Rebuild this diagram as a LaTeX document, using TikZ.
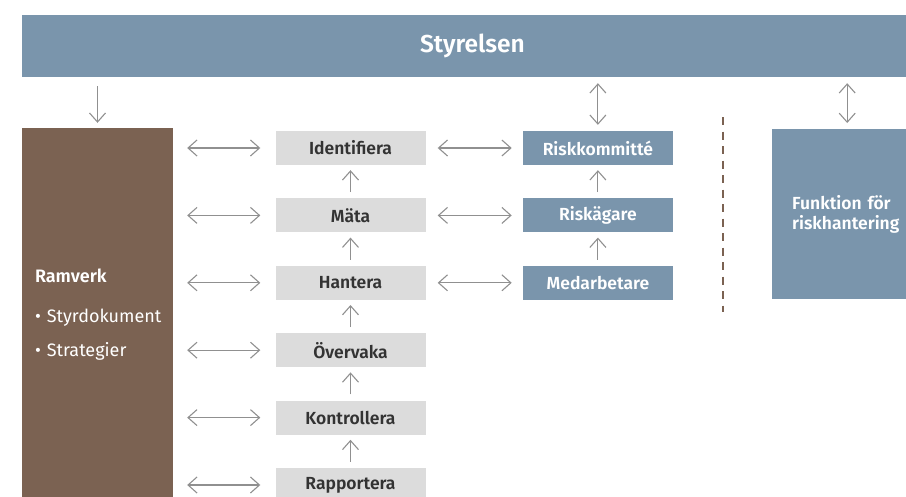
\documentclass[tikz,border=0pt]{standalone}
\usepackage{fontspec}
\setmainfont{Fira Sans}[BoldFont={Fira Sans SemiBold}]
\usetikzlibrary{positioning,arrows.meta}
\definecolor{styrblue}{HTML}{7A95AC}
\definecolor{rambrown}{HTML}{7B6252}
\definecolor{stepgray}{HTML}{DCDCDC}
\definecolor{labeldark}{HTML}{333333}
\definecolor{arrowgray}{HTML}{909090}
\begin{document}
\begin{tikzpicture}[x=1pt,y=-1pt,
	every node/.style={inner sep=0pt},
	processbox/.style={fill=stepgray,minimum width=150pt,minimum height=34pt,
		text=labeldark,font=\bfseries\fontsize{17.5}{20}\selectfont},
	rolebox/.style={fill=styrblue,minimum width=150pt,minimum height=34pt,
		text=white,font=\bfseries\fontsize{17.5}{20}\selectfont},
	link/.style={draw=arrowgray,line width=1.1pt,
		{Straight Barb[length=9pt,width=16pt]}-{Straight Barb[length=9pt,width=16pt]}},
	uplink/.style={draw=arrowgray,line width=1.1pt,-{Straight Barb[length=9pt,width=16pt]}},
	node distance=33pt
]
\useasboundingbox (0,0) rectangle (906,496);
\clip (0,0) rectangle (906,496);
% board
\node[fill=styrblue,minimum width=901pt,minimum height=62pt,text=white,
	font=\bfseries\fontsize{24.5}{28}\selectfont] (board) at (472.5,46) {Styrelsen};
% framework
\node[fill=rambrown,minimum width=151pt,minimum height=373pt,text=white,
	text width=125pt,inner xsep=13pt,align=left,
	font=\fontsize{18}{34}\selectfont] (ramverk) at (97.5,314.5)
	{\textbf{Ramverk}\\[6pt]\mbox{\textbullet\ Styrdokument}\\\mbox{\textbullet\ Strategier}};
% process steps
\node[processbox] (ident) at (350.5,148) {Identifiera};
\node[processbox,below=of ident] (maata) {Mäta};
\node[processbox,below=of maata] (hant) {Hantera};
\node[processbox,below=of hant] (overv) {Övervaka};
\node[processbox,below=of overv] (kontr) {Kontrollera};
\node[processbox,below=of kontr] (rapp) {Rapportera};
% roles
\node[rolebox,right=97pt of ident] (kommitte) {Riskkommitté};
\node[rolebox,right=97pt of maata] (agare) {Riskägare};
\node[rolebox,right=97pt of hant] (medarb) {Medarbetare};
% risk function
\node[fill=styrblue,minimum width=150pt,minimum height=170pt,text=white,
	text width=110pt,inner xsep=20pt,align=left,anchor=north west,
	font=\bfseries\fontsize{17.5}{19.5}\selectfont] (funktion) at (772,129)
	{Funktion för\\riskhantering};
% divider
\draw[rambrown,line width=2pt,dash pattern=on 8pt off 6.5pt] (723,117) -- (723,312);
% connectors
\draw[uplink,shorten <=9pt,shorten >=5pt] (board.south -| ramverk.north) -- (ramverk.north);
\draw[link,shorten <=6pt,shorten >=6pt] (board.south -| kommitte.north) -- (kommitte.north);
\draw[link,shorten <=6pt,shorten >=6pt] (board.south -| funktion.north) -- (funktion.north);
\foreach \s in {ident,maata,hant,overv,kontr,rapp}
	\draw[link,shorten <=14pt,shorten >=15pt] (\s.west -| ramverk.east) -- (\s.west);
\foreach \s/\r in {ident/kommitte,maata/agare,hant/medarb}
	\draw[link,shorten <=12pt,shorten >=11pt] (\s.east) -- (\r.west);
\foreach \a/\b in {maata/ident,hant/maata,overv/hant,kontr/overv,rapp/kontr,agare/kommitte,medarb/agare}
	\draw[uplink,shorten <=6pt,shorten >=5pt] (\a.north) -- (\b.south);
\end{tikzpicture}
\end{document}
